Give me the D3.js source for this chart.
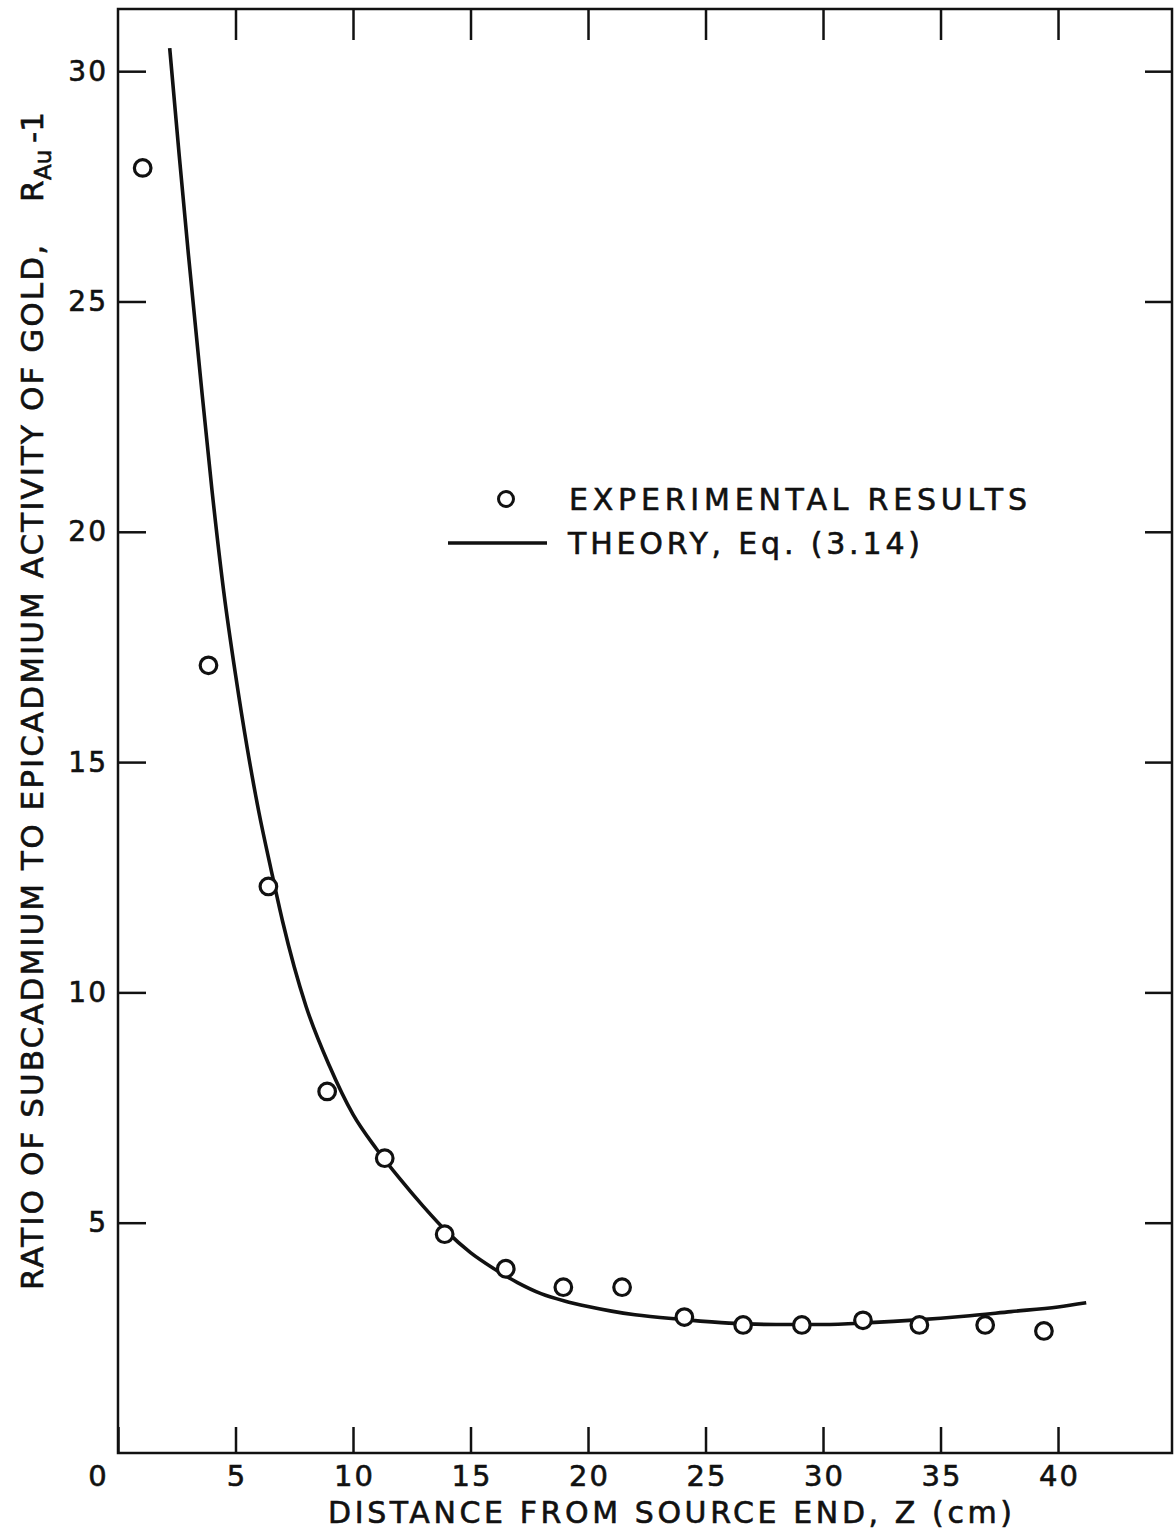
<!DOCTYPE html>
<html>
<head>
<meta charset="utf-8">
<script src="https://cdn.jsdelivr.net/npm/d3@7"></script>
<style>
  body { margin: 0; background: #fff; }
  svg text { font-family: "DejaVu Sans", sans-serif; fill: #111; stroke: #111; stroke-width: 0.6; }
  .tick line { stroke: #111; stroke-width: 2.5; }
  .domain { display: none; }
</style>
</head>
<body>
<svg id="chart" width="1174" height="1531"></svg>
<script>
// experimental points
var expZ = [1.05, 3.85, 6.4, 8.9, 11.35, 13.9, 16.5, 18.95, 21.45, 24.1, 26.6, 29.1, 31.7, 34.1, 36.9, 39.4];
var expR = [27.9, 17.1, 12.3, 7.85, 6.4, 4.75, 4.0, 3.6, 3.6, 2.95, 2.78, 2.78, 2.88, 2.78, 2.78, 2.65];

// theory curve, Eq. (3.14)
var thZ = [2.2, 2.6, 3.0, 3.5, 4.0, 4.5, 5.0, 5.5, 6.0, 6.5, 7.0, 7.5, 8.0, 9.0, 10, 11, 12, 13, 14, 15, 16, 17, 18, 19, 20, 21, 22, 24, 26, 28, 30, 32, 34, 36, 38, 40, 41.2];
var thR = [30.5, 28.2, 26.0, 23.4, 20.9, 18.7, 16.9, 15.3, 13.9, 12.7, 11.55, 10.55, 9.7, 8.4, 7.35, 6.6, 5.95, 5.35, 4.8, 4.35, 4.0, 3.7, 3.46, 3.3, 3.18, 3.08, 3.0, 2.9, 2.82, 2.79, 2.79, 2.83, 2.89, 2.97, 3.07, 3.17, 3.26];

var xTicks = [0, 5, 10, 15, 20, 25, 30, 35, 40];
var yTicks = [5, 10, 15, 20, 25, 30];

var xTitle = "DISTANCE FROM SOURCE END, Z (cm)";
var yTitle = "RATIO OF SUBCADMIUM TO EPICADMIUM ACTIVITY OF GOLD,";
var legendLabels = ["EXPERIMENTAL RESULTS", "THEORY, Eq. (3.14)"];

var margin = { top: 9, right: 1172, bottom: 1453, left: 118 };

var x = d3.scaleLinear().domain([0, 44.85]).range([margin.left, margin.right]);
var y = d3.scaleLinear().domain([0, 31.35]).range([margin.bottom, margin.top]);

var svg = d3.select('svg#chart');

// frame
svg.append('rect')
    .attr('x', margin.left).attr('y', margin.top)
    .attr('width', margin.right - margin.left).attr('height', margin.bottom - margin.top)
    .attr('fill', 'none')
    .attr('stroke', '#111')
    .attr('stroke-width', 2.5);

// bottom axis with labels, ticks pointing in
var gx = svg.append('g')
    .attr('transform', 'translate(0,' + margin.bottom + ')')
    .call(d3.axisBottom(x).tickValues(xTicks).tickSizeInner(-26).tickSizeOuter(0).tickPadding(12));
gx.selectAll('text')
    .attr('font-size', 29)
    .attr('letter-spacing', 2)
    .attr('dx', d => d == 0 ? -20 : 1);

// top axis, ticks only
svg.append('g')
    .attr('transform', 'translate(0,' + margin.top + ')')
    .call(d3.axisTop(x).tickValues(xTicks.slice(1)).tickSizeInner(-31).tickSizeOuter(0).tickFormat(''));

// left axis
var gy = svg.append('g')
    .attr('transform', 'translate(' + margin.left + ',0)')
    .call(d3.axisLeft(y).tickValues(yTicks).tickSizeInner(-28).tickSizeOuter(0).tickPadding(12));
gy.selectAll('text')
    .attr('font-size', 28)
    .attr('letter-spacing', 2)
    .attr('dx', 2);

// right axis, ticks only
svg.append('g')
    .attr('transform', 'translate(' + margin.right + ',0)')
    .call(d3.axisRight(y).tickValues(yTicks).tickSizeInner(-27).tickSizeOuter(0).tickFormat(''));

// axis titles
svg.append('text')
    .attr('x', 328).attr('y', 1523)
    .attr('font-size', 30)
    .attr('textLength', 684)
    .attr('lengthAdjust', 'spacing')
    .text(xTitle);

var yt = svg.append('g').attr('transform', 'translate(43,0) rotate(-90)');
yt.append('text')
    .attr('x', -1290).attr('y', 0)
    .attr('font-size', 31)
    .attr('textLength', 1045)
    .attr('lengthAdjust', 'spacing')
    .text(yTitle);
yt.append('text')
    .attr('x', -202).attr('y', 0)
    .attr('font-size', 31)
    .text('R');
yt.append('text')
    .attr('x', -180).attr('y', 8)
    .attr('font-size', 23)
    .text('Au');
yt.append('text')
    .attr('x', -143).attr('y', 0)
    .attr('font-size', 31)
    .text('-1');

// theory curve
var line = d3.line()
    .x(d => x(d[0]))
    .y(d => y(d[1]))
    .curve(d3.curveMonotoneX);

svg.append('path')
    .datum(d3.zip(thZ, thR))
    .attr('d', line)
    .attr('fill', 'none')
    .attr('stroke', '#111')
    .attr('stroke-width', 3.6);

// experimental points
svg.selectAll('circle.pt')
    .data(d3.zip(expZ, expR))
    .enter().append('circle')
    .attr('class', 'pt')
    .attr('cx', d => x(d[0]))
    .attr('cy', d => y(d[1]))
    .attr('r', 8.3)
    .attr('fill', '#fff')
    .attr('stroke', '#111')
    .attr('stroke-width', 3.2);

// legend
var lg = svg.append('g');
lg.append('circle')
    .attr('cx', 506).attr('cy', 499)
    .attr('r', 7.5)
    .attr('fill', 'none')
    .attr('stroke', '#111')
    .attr('stroke-width', 3);
lg.append('text')
    .attr('x', 569).attr('y', 510)
    .attr('font-size', 30)
    .attr('textLength', 458)
    .attr('lengthAdjust', 'spacing')
    .text(legendLabels[0]);
lg.append('line')
    .attr('x1', 448).attr('x2', 547)
    .attr('y1', 543).attr('y2', 543)
    .attr('stroke', '#111')
    .attr('stroke-width', 3.6);
lg.append('text')
    .attr('x', 568).attr('y', 554)
    .attr('font-size', 30)
    .attr('textLength', 352)
    .attr('lengthAdjust', 'spacing')
    .text(legendLabels[1]);
</script>
</body>
</html>
